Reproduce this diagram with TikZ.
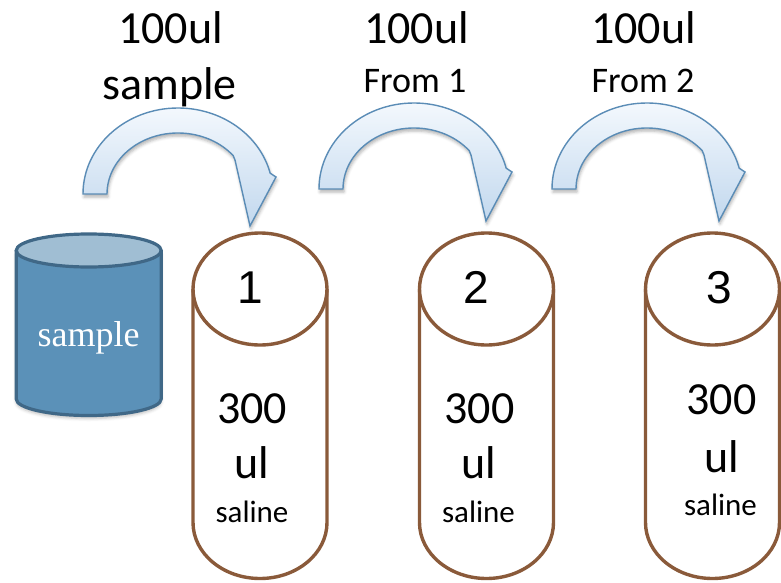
\documentclass[tikz,border=0pt]{standalone}
\usepackage{fontspec}
\setmainfont{Carlito}
\newfontfamily\numfont{Liberation Sans}
\newfontfamily\vialfont{Liberation Serif}
\usetikzlibrary{shadows.blur}

\definecolor{tubebrown}{HTML}{8A5A3A}
\definecolor{vialside}{HTML}{5B91B8}
\definecolor{vialtop}{HTML}{A0BED3}
\definecolor{vialedge}{HTML}{406887}
\definecolor{arrowedge}{HTML}{5A8CB6}
\definecolor{arrowlight}{HTML}{F3F8FD}
\definecolor{arrowdark}{HTML}{C2D8EE}

\tikzset{
  txt/.style={inner sep=0pt, anchor=base, text=black},
  bigtxt/.style={txt, font=\fontsize{46}{46}\selectfont},
  midtxt/.style={txt, font=\fontsize{36}{36}\selectfont},
  smalltxt/.style={txt, font=\fontsize{31}{31}\selectfont},
  numtxt/.style={txt, font=\numfont\fontsize{46}{46}\selectfont},
  tubeline/.style={draw=tubebrown, line width=3.4pt, line join=round, fill=white},
  vialbody/.style={draw=vialedge, line width=3.2pt, line join=round, fill=vialside,
    blur shadow={shadow xshift=0pt, shadow yshift=-3pt, shadow blur radius=3pt, shadow opacity=25}},
  vialcap/.style={draw=vialedge, line width=3.2pt, fill=vialtop},
  arrowbody/.style={draw=arrowedge, line width=1.4pt, line join=miter,
    top color=arrowlight, bottom color=arrowdark,
    blur shadow={shadow xshift=1pt, shadow yshift=-3pt, shadow blur radius=3pt, shadow opacity=30}},
  % curved block arrow, origin at the centre of its arcs
  pics/bendarrow/.style={code={
    \path[arrowbody] (-95,0)
      arc[start angle=180, end angle=14, x radius=95pt, y radius=86pt]
      -- (98,-17) -- (72,32) -- (57,-34) -- (55.18,-38.39)
      arc[start angle=39, end angle=180, x radius=71pt, y radius=61pt]
      -- cycle;
  }},
  % saline tube, origin at the centre of its top ellipse
  pics/salinetube/.style={code={
    \path[tubeline] (-67,0) -- (-67,233.5)
      arc[start angle=180, end angle=360, x radius=67pt, y radius=56pt]
      -- (67,0);
    \path[tubeline] (0,0) ellipse[x radius=67pt, y radius=56pt];
  }}
}

\begin{document}
\begin{tikzpicture}[x=1pt, y=-1pt]
\useasboundingbox (0,0) rectangle (781,583);

% sample vial
\path[vialbody] (16.2,250.5) -- (16.2,399)
  arc[start angle=180, end angle=360, x radius=72.5pt, y radius=16.5pt]
  -- (161.2,250.5);
\path[vialcap] (88.7,250.5) ellipse[x radius=72.5pt, y radius=16.5pt];
\node[txt, text=white, font=\vialfont\fontsize{36}{36}\selectfont] (vial) at (88.5,346) {sample};

% dilution tubes
\pic at (260,289) {salinetube};
\pic at (486.5,289) {salinetube};
\pic at (712.5,289) {salinetube};

% transfer arrows
\pic at (178,194) {bendarrow};
\pic at (414,189) {bendarrow};
\pic at (647,189) {bendarrow};

% transfer labels
\node[bigtxt] (l1a) at (170.5,43.5) {100ul};
\node[bigtxt] (l1b) at (169.5,100) {sample};
\node[bigtxt] (l2a) at (416.5,44) {100ul};
\node[midtxt] (l2b) at (415,93) {From 1};
\node[bigtxt] (l3a) at (643.5,44) {100ul};
\node[midtxt] (l3b) at (643,93) {From 2};

% tube 1
\node[numtxt] (n1) at (250,303) {1};
\node[bigtxt] (v1) at (252,423) {300};
\node[bigtxt] (u1) at (251.5,478) {ul};
\node[smalltxt] (s1) at (252,522) {saline};

% tube 2
\node[numtxt] (n2) at (476.5,303) {2};
\node[bigtxt] (v2) at (479.5,423) {300};
\node[bigtxt] (u2) at (479,478) {ul};
\node[smalltxt] (s2) at (478.5,522) {saline};

% tube 3
\node[numtxt] (n3) at (719,303) {3};
\node[bigtxt] (v3) at (721.5,414) {300};
\node[bigtxt] (u3) at (721.5,472) {ul};
\node[smalltxt] (s3) at (720.5,515) {saline};
\end{tikzpicture}
\end{document}
